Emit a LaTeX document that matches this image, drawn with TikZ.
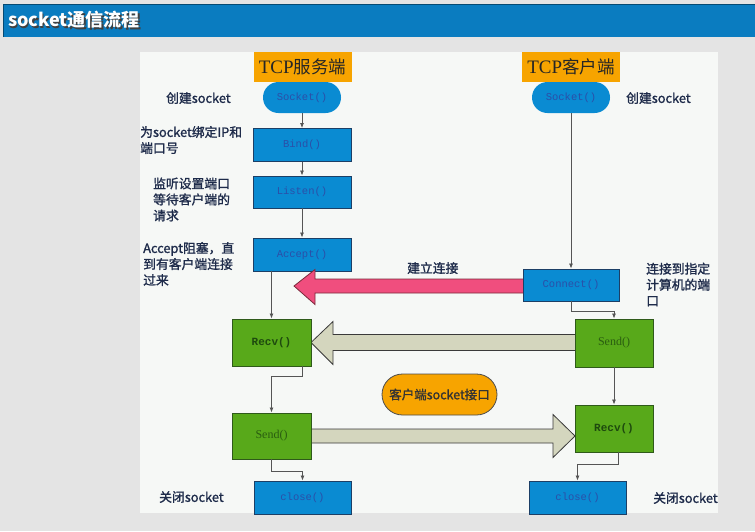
\documentclass[tikz,border=0pt]{standalone}
\usepackage{fontspec}
\setmainfont{Liberation Sans}
\newfontfamily\cjk{Noto Sans CJK SC}
\newfontfamily\cjkm[FakeBold=1.3]{Noto Sans CJK SC}
\newfontfamily\monof{Liberation Mono}
\newfontfamily\seriff{Liberation Serif}
\usetikzlibrary{shapes.misc,arrows.meta,calc}
\definecolor{bggray}{HTML}{E4E4E4}
\definecolor{titlebar}{HTML}{0A7CC0}
\definecolor{panel}{HTML}{F6F8F6}
\definecolor{bluefill}{HTML}{0A8BD2}
\definecolor{boxedge}{HTML}{1C3F66}
\definecolor{bluetext}{HTML}{2B4FA8}
\definecolor{greenfill}{HTML}{58A91A}
\definecolor{greenedge}{HTML}{2F5A1A}
\definecolor{greentext}{HTML}{1E4A0E}
\definecolor{orangef}{HTML}{F7A400}
\definecolor{pinkf}{HTML}{F04E7E}
\definecolor{pinkedge}{HTML}{7A2A3A}
\definecolor{grayf}{HTML}{D4D6BE}
\definecolor{grayedge}{HTML}{3A3A3A}
\definecolor{lbltext}{HTML}{1E2B4A}
\definecolor{conncol}{HTML}{555555}
\tikzset{
  bluebox/.style={draw=boxedge, line width=0.9pt, fill=bluefill, minimum width=98pt, minimum height=33pt, inner sep=0pt, font=\monof\fontsize{10.5}{12}\selectfont, text=bluetext},
  stadium/.style={rounded rectangle, fill=bluefill, minimum width=78pt, minimum height=31pt, inner sep=0pt, font=\monof\fontsize{10.5}{12}\selectfont, text=bluetext},
  greenbox/.style={draw=greenedge, line width=0.9pt, fill=greenfill, minimum width=79pt, minimum height=47pt, inner sep=0pt, text=greentext},
  recvtxt/.style={font=\monof\bfseries\fontsize{11}{12}\selectfont},
  sendtxt/.style={font=\seriff\fontsize{12}{13}\selectfont, text=greentext!80!greenfill},
  tcpbox/.style={fill=orangef, minimum width=98pt, minimum height=30pt, inner sep=0pt, text=black!85},
  lbl/.style={font=\cjkm\fontsize{12.8}{16}\selectfont, text=lbltext, align=left, anchor=west, inner sep=0pt},
  conn/.style={draw=conncol, line width=0.8pt, -{Latex[length=5pt,width=4pt]}},
  pinkarrow/.style={fill=pinkf, draw=pinkedge, line width=0.8pt, line join=miter},
  grayarrow/.style={fill=grayf, draw=grayedge, line width=0.8pt, line join=miter}
}
\begin{document}
\begin{tikzpicture}[x=1pt,y=-1pt]
\useasboundingbox (0,0) rectangle (755,531);
\fill[bggray] (0,0) rectangle (755,531);
\fill[titlebar] (3,4) rectangle (755,37);
\draw[titlebar!60!black, line width=0.6pt] (3,37) -- (3,4) -- (755,4);
\fill[panel] (140,52) rectangle (718,513);
% title
\node[anchor=west, inner sep=0pt, font=\cjk\bfseries\fontsize{18}{20}\selectfont, text=black!75] (titleshadow) at (9.2,21.2) {socket通信流程};
\node[anchor=west, inner sep=0pt, font=\cjk\bfseries\fontsize{18}{20}\selectfont, text=white] (title) at (8,20) {socket通信流程};

\coordinate (pinktip) at (294,286);

% server column
\node[tcpbox] (tcpS) at (302.5,67) {{\seriff\fontsize{19}{20}\selectfont TCP}{\cjk\fontsize{17.5}{20}\selectfont 服务端}};
\node[stadium] (sockS) at (302,97.5) {Socket()};
\node[bluebox] (bind) at (302,145) {Bind()};
\node[bluebox, minimum height=32pt] (listen) at (302,192) {Listen()};
\node[bluebox] (accept) at (302,254.5) {Accept()};
\coordinate (recvSc) at (271.5,342.5);
\coordinate (sendSc) at (271.5,436);
\node[bluebox, minimum width=97pt] (closeS) at (302.5,497.5) {close()};

% client column
\node[tcpbox] (tcpC) at (571,67) {{\seriff\fontsize{19}{20}\selectfont TCP}{\cjk\fontsize{17.5}{20}\selectfont 客户端}};
\node[stadium] (sockC) at (571,97.5) {Socket()};
\coordinate (connectc) at (571,285);
\coordinate (sendCc) at (614,343);
\coordinate (recvCc) at (614,428.5);
\node[bluebox, minimum width=97pt] (closeC) at (577.5,497.5) {close()};

% big arrows (drawn under the boxes)
\draw[pinkarrow] let \p1=(connectc), \p2=(pinktip) in
  (\p2) -- (\x2+21pt,\y2+16.5pt) -- (\x2+21pt,\y2+7pt) -- (\x1,\y2+7pt)
  -- (\x1,\y2-7pt) -- (\x2+21pt,\y2-7pt) -- (\x2+21pt,\y2-18.5pt) -- cycle;
\draw[grayarrow] let \p1=(sendCc), \p2=([xshift=39.5pt]recvSc) in
  (\p2) -- (\x2+22pt,\y2+21pt) -- (\x2+22pt,\y2+8pt) -- (\x1,\y2+8pt)
  -- (\x1,\y2-8pt) -- (\x2+22pt,\y2-8pt) -- (\x2+22pt,\y2-22pt) -- cycle;
\draw[grayarrow] let \p1=(sendSc), \p2=([xshift=-39pt]recvCc |- sendSc) in
  (\p2) -- (\x2-22pt,\y2+21.5pt) -- (\x2-22pt,\y2+7pt) -- (\x1,\y2+7pt)
  -- (\x1,\y2-7pt) -- (\x2-22pt,\y2-7pt) -- (\x2-22pt,\y2-21.5pt) -- cycle;

% boxes over the arrows
\node[greenbox, recvtxt] (recvS) at (recvSc) {Recv()};
\node[greenbox, minimum height=46pt, sendtxt] (sendS) at (sendSc) {Send()};
\node[bluebox, minimum width=96pt, minimum height=32pt] (connect) at (connectc) {Connect()};
\node[greenbox, minimum width=78pt, minimum height=48pt, sendtxt] (sendC) at (sendCc) {Send()};
\node[greenbox, minimum width=78pt, recvtxt] (recvC) at (recvCc) {Recv()};

% interface label
\node[rounded rectangle, draw=black!70, line width=0.8pt, fill=orangef, minimum width=115pt, minimum height=41pt, inner sep=0pt, font=\cjkm\fontsize{12.5}{14}\selectfont, text=black!80] (iface) at (439.5,394.5) {客户端socket接口};

% connectors server
\draw[conn] (sockS.south) -- (bind.north);
\draw[conn] (bind.south) -- (listen.north);
\draw[conn] (listen.south) -- (accept.north);
\draw[conn] (recvS.north |- accept.south) -- (recvS.north);
\draw[conn] (recvS.south -| accept.south) -- ++(0,10) -| (sendS.north);
\draw[conn] (sendS.south) -- ++(0,12) -| (closeS.north);
% connectors client
\draw[conn] (sockC.south) -- (connect.north);
\draw[conn] (connect.south) -- ++(0,10) -| (sendC.north);
\draw[conn] (sendC.south) -- (recvC.north);
\draw[conn] ([xshift=4pt]recvC.south) -- ++(0,12) -| (closeC.north);

% labels
\node[lbl] (l1) at (166,98) {创建socket};
\node[lbl] (l2) at (140,140) {为socket绑定IP和\\端口号};
\node[lbl] (l3) at (153,199.5) {监听设置端口\\等待客户端的\\请求};
\node[lbl] (l4) at (143,264) {Accept阻塞，直\\到有客户端连接\\过来};
\node[lbl] (l5) at (407,268) {建立连接};
\node[lbl] (l6) at (626,98) {创建socket};
\node[lbl] (l7) at (646,284.5) {连接到指定\\计算机的端\\口};
\node[lbl] (l8) at (159,497) {关闭socket};
\node[lbl] (l9) at (653,498) {关闭socket};
\end{tikzpicture}
\end{document}
